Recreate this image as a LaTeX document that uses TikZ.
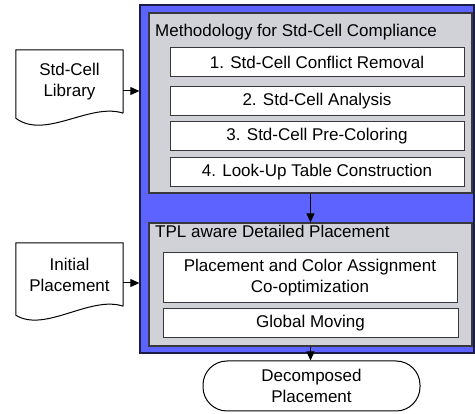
\documentclass[tikz,border=0pt]{standalone}
\usepackage{fontspec}
\setmainfont{Liberation Sans}
\usetikzlibrary{arrows.meta}
\definecolor{flowblue}{RGB}{92,99,255}
\definecolor{navyline}{RGB}{28,28,72}
\definecolor{panelgray}{RGB}{208,210,215}
\definecolor{panelline}{RGB}{55,55,60}
\begin{document}
\begin{tikzpicture}[x=1pt, y=-1pt, >={Triangle[length=9pt,width=8pt]}, font=\fontsize{17}{21}\selectfont, outer style/.style={rectangle, draw=navyline, fill=flowblue, line width=1.3pt, minimum width=334pt, minimum height=348pt}, panel style/.style={rectangle, draw=panelline, fill=panelgray, line width=1.2pt, minimum width=323pt}, task style/.style={rectangle, draw=panelline, fill=white, line width=1pt, align=center, inner sep=0pt, minimum width=294pt, minimum height=29pt}, doc style/.style={align=center, inner sep=0pt, minimum width=107pt, minimum height=63pt}, term style/.style={rectangle, draw, rounded corners=24pt, align=center, line width=1pt, minimum width=217pt, minimum height=50pt}]
	\useasboundingbox (0,0) rectangle (475,414);
	\node[outer style] (outer) at (307, 179) {};
	\node[panel style, minimum height=180pt] (method) at (310.5, 103) {};
	\node[anchor=base west, inner sep=0pt] (methodtitle) at (155, 37) {Methodology for Std-Cell Compliance};
	\node[task style] (T1) at (317, 62.5) {1. Std-Cell Conflict Removal};
	\node[task style] (T2) at (317, 101.5) {2. Std-Cell Analysis};
	\node[task style] (T3) at (317, 136.5) {3. Std-Cell Pre-Coloring};
	\node[task style] (T4) at (317, 172.5) {4. Look-Up Table Construction};
	\node[panel style, minimum height=123pt] (tpl) at (310.5, 284.5) {};
	\node[anchor=base west, inner sep=0pt] (tpltitle) at (155, 238) {TPL aware Detailed Placement};
	\node[task style, minimum height=50pt] (P1) at (310, 278) {Placement and Color Assignment\\Co-optimization};
	\node[task style, minimum width=295pt] (P2) at (310.5, 323.5) {Global Moving};
	\node[term style] (dec) at (311.5, 386) {Decomposed\\Placement};
	\node[doc style] (lib) at (69.5, 81.5) {Std-Cell\\Library};
	\node[doc style] (init) at (69.5, 274.5) {Initial\\Placement};
	\draw[line width=1pt] (lib.south east) -- (lib.north east) -- (lib.north west) -- ([yshift=-5pt]lib.south west) .. controls +(29,22) and +(-33,-11) .. (lib.south east);
	\draw[line width=1pt] (init.south east) -- (init.north east) -- (init.north west) -- ([yshift=-9pt]init.south west) .. controls +(29,18) and +(-33,-11) .. (init.south east);
	\coordinate (libout) at ([yshift=-9.5pt]lib.east);
	\coordinate (initout) at ([yshift=-8.5pt]init.east);
	\draw[->, line width=1pt] (libout) -- (libout -| outer.west);
	\draw[->, line width=1pt] (initout) -- (initout -| outer.west);
	\draw[->, line width=1pt] (method.south) -- (tpl.north);
	\draw[->, line width=1pt] (tpl.south) -- (tpl.south |- dec.north);
\end{tikzpicture}
\end{document}
